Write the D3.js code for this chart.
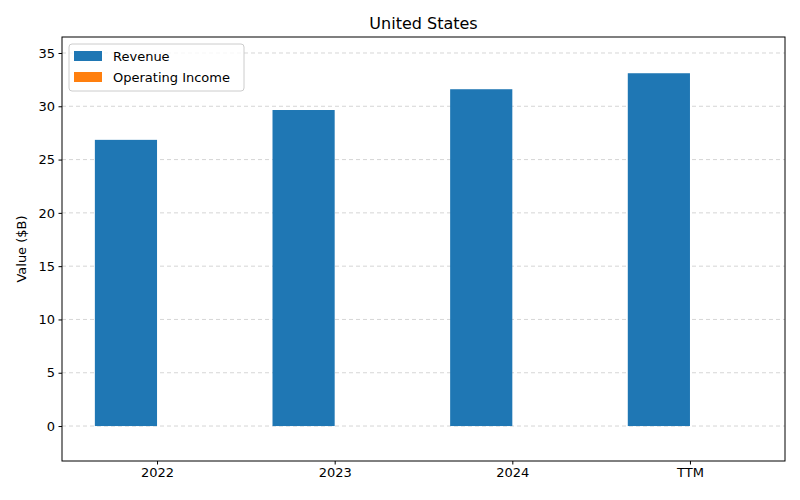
<!DOCTYPE html>
<html><head><meta charset="utf-8">
<script src="https://cdn.jsdelivr.net/npm/d3@7"></script>
<style>body{margin:0;background:#fff}text{font-family:"DejaVu Sans",sans-serif}</style>
</head><body><svg id="c" width="800" height="500"></svg>
<script>
const categories = ["2022","2023","2024","TTM"];
const revenue = [26.85, 29.65, 31.6, 33.1];
const operatingIncome = [0, 0, 0, 0];
const yTicks = [0,5,10,15,20,25,30,35];

const svg = d3.select("#c");
const L=62,R=785,T=37,B=461;
const x = d3.scaleLinear().domain([-0.535,3.535]).range([L,R]);
const y = d3.scaleLinear().domain([-3.28,36.5]).range([B,T]);
const w = 0.35;

const g = svg.append("g");
yTicks.forEach(t=>{
  g.append("line").attr("x1",L).attr("x2",R).attr("y1",y(t)).attr("y2",y(t))
   .attr("stroke","#ccc").attr("stroke-dasharray","4,3").attr("stroke-width",0.8);
});
g.selectAll(".rev").data(revenue).join("rect")
 .attr("x",(d,i)=>x(i-w)).attr("width",x(w)-x(0))
 .attr("y",d=>y(Math.max(d,0))).attr("height",d=>Math.abs(y(d)-y(0))).attr("fill","#1f77b4");
g.selectAll(".op").data(operatingIncome).join("rect")
 .attr("x",(d,i)=>x(i)).attr("width",x(w)-x(0))
 .attr("y",d=>y(Math.max(d,0))).attr("height",d=>Math.abs(y(d)-y(0))).attr("fill","#ff7f0e");

svg.append("rect").attr("x",L).attr("y",T).attr("width",R-L).attr("height",B-T)
 .attr("fill","none").attr("stroke","#000").attr("stroke-width",1);

const ya = svg.append("g").attr("transform",`translate(${L},0)`)
 .call(d3.axisLeft(y).tickValues(yTicks).tickSize(3.5).tickPadding(3.5));
const xa = svg.append("g").attr("transform",`translate(0,${B})`)
 .call(d3.axisBottom(x).tickValues(categories.map((c,i)=>i)).tickFormat(i=>categories[i]).tickSize(3.5).tickPadding(3.5));
[ya,xa].forEach(a=>{a.select(".domain").remove();a.selectAll("text").attr("font-size",13).attr("fill","#000");});

svg.append("text").attr("x",(L+R)/2).attr("y",29).attr("text-anchor","middle").attr("font-size",16).text("United States");
svg.append("text").attr("transform",`translate(26,${(T+B)/2}) rotate(-90)`).attr("text-anchor","middle").attr("font-size",13).text("Value ($B)");

const lg = svg.append("g");
lg.append("rect").attr("x",69).attr("y",44).attr("width",175).attr("height",47).attr("rx",3)
 .attr("fill","#fff").attr("fill-opacity",0.8).attr("stroke","#ccc");
[["Revenue","#1f77b4"],["Operating Income","#ff7f0e"]].forEach((d,i)=>{
  lg.append("rect").attr("x",74).attr("y",51+i*21).attr("width",28).attr("height",10).attr("fill",d[1]);
  lg.append("text").attr("x",113).attr("y",61+i*21).attr("font-size",13).text(d[0]);
});
</script></body></html>
